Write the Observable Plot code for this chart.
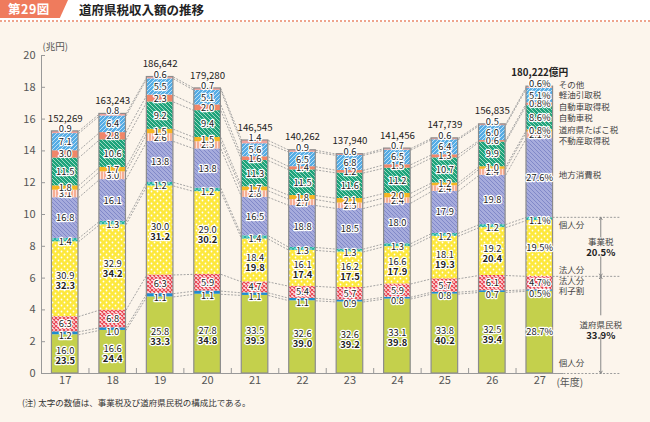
<!DOCTYPE html>
<html><head><meta charset="utf-8">
<script src="https://cdn.jsdelivr.net/npm/d3@7"></script>
<script src="https://cdn.jsdelivr.net/npm/@observablehq/plot@0.6"></script>
<style>
body{margin:0;background:#fcf5ec;font-family:'Noto Sans CJK JP',sans-serif;width:650px;height:422px;overflow:hidden}
#hdr{position:relative;height:20px;background:#fff;border-bottom:2px dotted #eea48c}
#badge{position:absolute;left:0;top:0;width:68px;height:18px;background:#ef7b5d;clip-path:polygon(0 0,100% 0,88% 100%,0 100%);color:#fff;font-weight:bold;font-size:12.5px;line-height:18px;padding-left:8px;box-sizing:border-box;letter-spacing:0.5px}
#ttl{position:absolute;left:79px;top:1px;font-size:12.5px;font-weight:bold;color:#222;line-height:18px}
#chart{height:372px}
#note{font-size:8.5px;color:#333;padding-left:22px;margin-top:2px}
</style></head>
<body>
<div id="hdr"><div id="badge">第29図</div><div id="ttl">道府県税収入額の推移</div></div>
<div id="chart"></div>
<div id="note">(注) 太字の数値は、事業税及び道府県民税の構成比である。</div>
<script>
// ---- data (percent shares of each year's total; totals in 億円) ----
const years  = [17, 18, 19, 20, 21, 22, 23, 24, 25, 26, 27];
const totals = [152269, 163243, 186642, 179280, 146545, 140262, 137940, 141456, 147739, 156835, 180222];
const kojin      = [16.0, 16.6, 25.8, 27.8, 33.5, 32.6, 32.6, 33.1, 33.8, 32.5, 28.7]; // 道府県民税 個人分
const rishi      = [1.2, 1.0, 1.1, 1.1, 1.1, 1.1, 0.9, 0.8, 0.8, 0.7, 0.5];          // 利子割
const hojin      = [6.3, 6.8, 6.3, 5.9, 4.7, 5.4, 5.7, 5.9, 5.7, 6.1, 4.7];          // 道府県民税 法人分
const jigyoHojin = [30.9, 32.9, 30.0, 29.0, 18.4, 16.1, 16.2, 16.6, 18.1, 19.2, 19.5]; // 事業税 法人分
const jigyoKojin = [1.4, 1.3, 1.2, 1.2, 1.4, 1.3, 1.3, 1.3, 1.2, 1.2, 1.1];          // 事業税 個人分
const chiho      = [16.8, 16.1, 13.8, 13.8, 16.5, 18.8, 18.5, 18.0, 17.9, 19.8, 27.6]; // 地方消費税
const fudosan    = [3.1, 3.0, 2.6, 2.5, 2.8, 2.7, 2.5, 2.4, 2.4, 2.4, 2.1];          // 不動産取得税
const tabako     = [1.8, 1.7, 1.5, 1.5, 1.7, 1.8, 2.1, 2.0, 1.2, 1.0, 0.8];          // 道府県たばこ税
const jidosha    = [11.5, 10.6, 9.2, 9.4, 11.3, 11.5, 11.6, 11.2, 10.7, 9.9, 8.6];   // 自動車税
const shutoku    = [3.0, 2.8, 2.3, 2.0, 1.6, 1.4, 1.2, 1.5, 1.3, 0.6, 0.8];          // 自動車取得税
const keiyu      = [7.1, 6.4, 5.5, 5.1, 5.6, 6.5, 6.8, 6.5, 6.4, 6.0, 5.1];          // 軽油引取税
const sonota     = [0.9, 0.8, 0.6, 0.7, 1.4, 0.9, 0.6, 0.7, 0.6, 0.5, 0.6];          // その他
const kenminTotal = [23.5, 24.4, 33.3, 34.8, 39.3, 39.0, 39.2, 39.8, 40.2, 39.4, 33.9]; // 道府県民税 (bold)
const jigyoTotal  = [32.3, 34.2, 31.2, 30.2, 19.8, 17.4, 17.5, 17.9, 19.3, 20.4, 20.5]; // 事業税 (bold)
const keys  = ["kojin","rishi","hojin","jigyoHojin","jigyoKojin","chiho","fudosan","tabako","jidosha","shutoku","keiyu","sonota"];
const shares = {kojin, rishi, hojin, jigyoHojin, jigyoKojin, chiho, fudosan, tabako, jidosha, shutoku, keiyu, sonota};
const sideNames = ["個人分","利子割","法人分","法人分","個人分","地方消費税","不動産取得税","道府県たばこ税","自動車税","自動車取得税","軽油引取税","その他"];
const yTicks = [0, 2, 4, 6, 8, 10, 12, 14, 16, 18, 20];

// ---- styles ----
const FILL = {
  kojin: "#c4d04c", rishi: "#1f8ccf", hojin: "url(#pHojin)", jigyoHojin: "url(#pJigyo)",
  jigyoKojin: "url(#pJigyoK)", chiho: "url(#pChiho)", fudosan: "url(#pFudo)", tabako: "#f6b623",
  jidosha: "url(#pJido)", shutoku: "#f08669", keiyu: "url(#pKeiyu)", sonota: "#f1a29d"
};
const sideDy = {kojin: 31, rishi: 1, hojin: -1.5, jigyoHojin: 22, jigyoKojin: 6, chiho: -3, fudosan: 6, tabako: -1, jidosha: 1, shutoku: 3, keiyu: 0, sonota: -2};
const HALF = 0.28;
const NUM = 9.4;

// ---- derived stacks ----
const segs = [], tops = [];
years.forEach((yr, i) => {
  let acc = 0;
  const t = totals[i] / 10000;
  keys.forEach((k, j) => {
    const v = t * shares[k][i] / 100;
    segs.push({year: yr, i, k, j, y1: acc, y2: acc + v, pct: shares[k][i]});
    acc += v;
  });
  tops.push({year: yr, i, top: acc, total: totals[i]});
});
const links = [];
for (let i = 0; i < years.length - 1; i++) for (let j = 0; j < keys.length; j++) {
  const a = segs[i * keys.length + j], b = segs[(i + 1) * keys.length + j];
  links.push({x1: a.year + HALF, x2: b.year - HALF, y1: a.y2, y2: b.y2});
}
const last = segs.filter(d => d.year === 27);
const segOf = k => last.find(d => d.k === k);
const mid = d => (d.y1 + d.y2) / 2;
const lab = d => d.pct.toFixed(1) + (d.year === 27 ? "%" : "");
const fmt = d3.format(",");
const twoLine = new Set(["kojin", "jigyoHojin"]);
const halo = {stroke: "white", strokeWidth: 2.4, strokeLinejoin: "round", paintOrder: "stroke", fill: "#222", fontSize: NUM};
const jigyoTop = segOf("jigyoKojin").y2, kenminTop = segOf("hojin").y2;
const jigyoMid = (segOf("jigyoHojin").y1 + jigyoTop) / 2, kenminMid = kenminTop / 2;
const grey = "#8c8c8c";

const svg = Plot.plot({
  width: 650, height: 372,
  marginTop: 33, marginBottom: 21, marginLeft: 41, marginRight: 87,
  style: {fontFamily: "'Noto Sans CJK JP', sans-serif", background: "transparent", color: "#555", fontSize: "11px"},
  color: {type: "identity"},
  x: {domain: [16.5, 27.5], ticks: years, tickFormat: d => String(d), tickSize: 0, tickPadding: 3, label: null},
  y: {domain: [0, 20], ticks: yTicks, tickSize: 0, tickPadding: 6, label: null},
  marks: [
    Plot.link(links, {x1: "x1", y1: "y1", x2: "x2", y2: "y2", stroke: "#9c9c9c", strokeWidth: 0.9, strokeDasharray: "2,1.4"}),
    Plot.rect(segs, {x1: d => d.year - HALF, x2: d => d.year + HALF, y1: "y1", y2: "y2", fill: d => FILL[d.k]}),
    Plot.rect(tops, {x1: d => d.year - HALF, x2: d => d.year + HALF, y1: 0, y2: "top", fill: "none", stroke: grey, strokeWidth: 1.2}),
    // axes lines & ticks
    Plot.ruleX([16.5], {y1: 0, y2: 20, stroke: "#999"}),
    Plot.ruleY([0], {x1: 16.5, x2: 27.5, stroke: "#999"}),
    Plot.ruleY(yTicks, {x1: 16.5, x2: 16.5, insetRight: -4, stroke: "#999"}),
    Plot.ruleX(years.slice(0, -1), {x: d => d + 0.5, y1: 0, y2: 0, insetTop: -5, stroke: "#999"}),
    // right side dotted guides
    Plot.ruleY([jigyoTop, kenminTop, 0], {x1: 27 + HALF, x2: 28.72, stroke: "#9c9c9c", strokeDasharray: "2,1.6"}),
    // segment labels
    Plot.text(segs.filter(d => !["sonota","rishi","jigyoKojin"].includes(d.k) && !(twoLine.has(d.k) && d.year !== 27)),
      {x: "year", y: mid, text: lab, ...halo}),
    Plot.text(segs.filter(d => d.k === "rishi"), {x: "year", y: mid, text: lab, dy: 3, ...halo}),
    Plot.text(segs.filter(d => d.k === "jigyoKojin"), {x: "year", y: mid, text: lab, dy: 2, ...halo}),
    Plot.text(segs.filter(d => twoLine.has(d.k) && d.year !== 27), {x: "year", y: mid, text: lab, dy: -3, ...halo}),
    Plot.text(segs.filter(d => twoLine.has(d.k) && d.year !== 27),
      {x: "year", y: mid, text: d => (d.k === "kojin" ? kenminTotal : jigyoTotal)[d.i].toFixed(1), dy: 7, fontWeight: "bold", ...halo}),
    Plot.text(segs.filter(d => d.k === "sonota"), {x: "year", y: "y2", text: lab, dy: -2.5, ...halo}),
    // totals
    Plot.text(tops.filter(d => d.year !== 27), {x: "year", y: "top", text: d => fmt(d.total), dy: -13, fill: "#222", fontSize: NUM + 0.3}),
    Plot.text(tops.filter(d => d.year === 27), {x: "year", y: "top", text: d => fmt(d.total) + "億円", dy: -14, fill: "#222", fontSize: NUM + 0.3, fontWeight: "bold"}),
    // unit labels
    Plot.text(["(兆円)"], {frameAnchor: "top-left", dx: 1, dy: -12, fill: "#555", fontSize: 9.5}),
    Plot.text(["(年度)"], {x: () => 27, y: () => 0, dx: 30, dy: 9, fill: "#555", fontSize: 10}),
    // right-side category notes
    ...keys.map((k, j) => Plot.text([segOf(k)], {x: "year", y: mid, text: () => sideNames[j], dx: 19, dy: sideDy[k], textAnchor: "start", fill: "#444", fontSize: 8.5})),
    // brackets
    Plot.text(["事業税"], {x: () => 27, y: () => jigyoMid, dx: 61, dy: -4.5, fill: "#444", fontSize: 8.5}),
    Plot.text([jigyoTotal[10]], {x: () => 27, y: () => jigyoMid, text: d => d.toFixed(1) + "%", dx: 61, dy: 6, fill: "#222", fontSize: 9.5, fontWeight: "bold"}),
    Plot.text(["道府県民税"], {x: () => 27, y: () => kenminMid, dx: 61, dy: 0, fill: "#444", fontSize: 8.5}),
    Plot.text([kenminTotal[10]], {x: () => 27, y: () => kenminMid, text: d => d.toFixed(1) + "%", dx: 61, dy: 11, fill: "#222", fontSize: 9.5, fontWeight: "bold"}),
    Plot.arrow([[jigyoMid, jigyoTop], [jigyoMid, kenminTop], [kenminMid, kenminTop], [kenminMid, 0]],
      {x1: () => 27, x2: () => 27, y1: d => d[0], y2: d => d[1], dx: 61, stroke: "#888", strokeWidth: 1, headLength: 4, insetStart: 10})
  ]
});
svg.insertAdjacentHTML("afterbegin", `<defs>
<pattern id="pHojin" width="4" height="4" patternUnits="userSpaceOnUse"><rect width="4" height="4" fill="#fde2e2"/><path d="M0,0L4,4M4,0L0,4" stroke="#e94452" stroke-width="1.1"/></pattern>
<pattern id="pJigyo" width="6" height="6" patternUnits="userSpaceOnUse"><rect width="6" height="6" fill="#fde83c"/><circle cx="1.5" cy="1.5" r="0.9" fill="#fff"/><circle cx="4.5" cy="4.5" r="0.9" fill="#fff"/></pattern>
<pattern id="pJigyoK" width="4" height="4" patternUnits="userSpaceOnUse"><rect width="4" height="4" fill="#26b4a4"/><circle cx="1" cy="1" r="0.7" fill="#fff"/><circle cx="3" cy="3" r="0.7" fill="#dff5f0"/></pattern>
<pattern id="pChiho" width="4" height="4" patternUnits="userSpaceOnUse"><rect width="4" height="4" fill="#a6abdc"/><path d="M-1,3L1,5M0,0L4,4M3,-1L5,1" stroke="#8088c8" stroke-width="1"/></pattern>
<pattern id="pFudo" width="3" height="4" patternUnits="userSpaceOnUse"><rect width="3" height="4" fill="#f6ae94"/><path d="M1.5,0V4" stroke="#fff" stroke-width="0.8" opacity="0.8"/></pattern>
<pattern id="pJido" width="4" height="4" patternUnits="userSpaceOnUse"><rect width="4" height="4" fill="#1ea37b"/><path d="M-1,3L1,5M0,0L4,4M3,-1L5,1" stroke="#bfe8d6" stroke-width="0.8"/></pattern>
<pattern id="pKeiyu" width="4" height="4" patternUnits="userSpaceOnUse"><rect width="4" height="4" fill="#56ace4"/><path d="M-1,1L1,-1M0,4L4,0M3,5L5,3" stroke="#d6ecfa" stroke-width="0.8"/></pattern>
</defs>`);
document.getElementById("chart").appendChild(svg);
</script>
</body></html>
